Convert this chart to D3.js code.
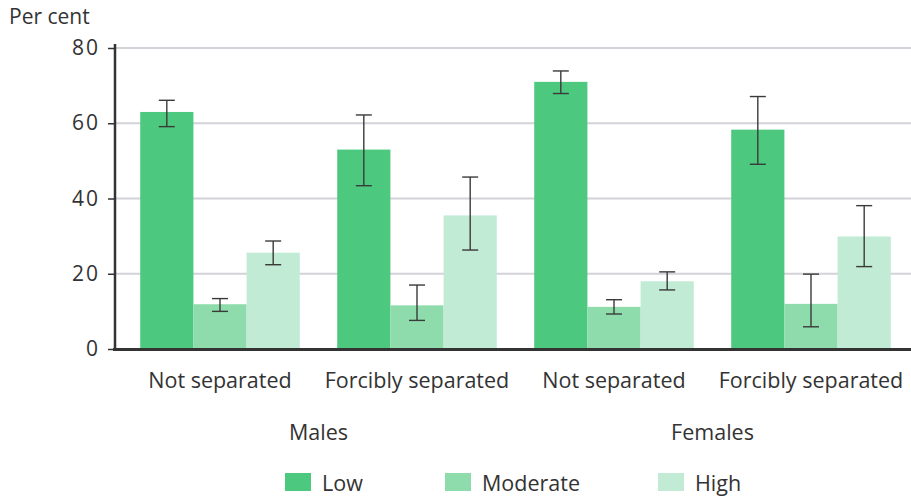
<!DOCTYPE html>
<html>
<head>
<meta charset="utf-8">
<script src="https://cdn.jsdelivr.net/npm/d3@7"></script>
<style>
  html, body { margin: 0; padding: 0; background: #fff; }
  svg { display: block; font-family: "Open Sans", "Noto Sans", sans-serif; }
</style>
</head>
<body>
<svg id="chart" width="911" height="497"></svg>
<script>
// Groups along the x axis (sex + separation status)
const groups = ["Males|Not separated", "Males|Forcibly separated", "Females|Not separated", "Females|Forcibly separated"];
const groupLabels = ["Not separated", "Forcibly separated", "Not separated", "Forcibly separated"];
const sexLabels = ["Males", "Females"];
const levels = ["Low", "Moderate", "High"];
const levelColors = ["#4dc97f", "#8edcab", "#c1ebd4"];

// Per cent by level, one value per group
const lowValues      = [63.0, 53.0, 71.0, 58.3];
const moderateValues = [11.9, 11.6, 11.2, 12.0];
const highValues     = [25.6, 35.5, 18.0, 29.9];

// 95% confidence interval bounds
const lowCI      = [[59.1, 66.1], [43.4, 62.2], [67.9, 73.9], [49.1, 67.1]];
const moderateCI = [[10.0, 13.4], [7.6, 17.0],  [9.3, 13.1],  [5.9, 19.9]];
const highCI     = [[22.4, 28.7], [26.3, 45.7], [15.7, 20.5], [21.9, 38.1]];

const yTicks = [0, 20, 40, 60, 80];

const seriesValues = [lowValues, moderateValues, highValues];
const seriesCI = [lowCI, moderateCI, highCI];

const svg = d3.select("#chart");
const W = 911;
const y0 = 349;
const textColor = "#333";

const x = d3.scaleBand().domain(groups).range([121.5, 909.5]).paddingInner(0.19).paddingOuter(0.095);
const xs = d3.scaleBand().domain(levels).range([0, x.bandwidth()]).padding(0);
const y = d3.scaleLinear().domain([0, 80]).range([y0, 48]);

// Gridlines
svg.append("g")
  .selectAll("line")
  .data(yTicks.filter(t => t > 0))
  .join("line")
  .attr("x1", 115).attr("x2", W)
  .attr("y1", d => y(d)).attr("y2", d => y(d))
  .attr("stroke", "#d2d2d9").attr("stroke-width", 2);

// Bars
const barData = [];
groups.forEach((g, gi) => {
  levels.forEach((lv, li) => {
    barData.push({ g, lv, li, v: seriesValues[li][gi], ci: seriesCI[li][gi] });
  });
});

svg.append("g")
  .selectAll("rect")
  .data(barData)
  .join("rect")
  .attr("x", d => x(d.g) + xs(d.lv))
  .attr("width", xs.bandwidth())
  .attr("y", d => y(d.v))
  .attr("height", d => y(0) - y(d.v))
  .attr("fill", d => levelColors[d.li]);

// Error bars
const eb = svg.append("g").attr("stroke", "#3a3a3a").attr("stroke-width", 1.4);
barData.forEach(d => {
  const cx = x(d.g) + xs(d.lv) + xs.bandwidth() / 2;
  eb.append("line").attr("x1", cx).attr("x2", cx).attr("y1", y(d.ci[0])).attr("y2", y(d.ci[1]));
  [d.ci[0], d.ci[1]].forEach(v => {
    eb.append("line").attr("x1", cx - 8).attr("x2", cx + 8).attr("y1", y(v)).attr("y2", y(v));
  });
});

// Y axis
const yAxis = d3.axisLeft(y).tickValues(yTicks).tickSize(7).tickPadding(8);
const ya = svg.append("g").attr("transform", "translate(115,0)").call(yAxis);
ya.select(".domain").remove();
ya.selectAll(".tick line").attr("stroke", textColor).attr("stroke-width", 1.5);
ya.selectAll(".tick text")
  .attr("font-size", 21).attr("fill", textColor)
  .attr("letter-spacing", "2px")
  .attr("font-family", "'Open Sans', sans-serif");
svg.append("line").attr("x1", 115).attr("x2", 115).attr("y1", 44).attr("y2", y0 + 1.5)
  .attr("stroke", textColor).attr("stroke-width", 2.5);

// Baseline
svg.append("line").attr("x1", 113).attr("x2", W).attr("y1", y0 + 0.5).attr("y2", y0 + 0.5)
  .attr("stroke", textColor).attr("stroke-width", 3);

// Axis title
svg.append("text").attr("x", 9).attr("y", 24).text("Per cent")
  .attr("font-size", 21).attr("fill", textColor);

// Category labels
svg.append("g").selectAll("text")
  .data(groups)
  .join("text")
  .attr("x", d => x(d) + x.bandwidth() / 2)
  .attr("y", 388)
  .attr("text-anchor", "middle")
  .attr("font-size", 21.5).attr("fill", textColor)
  .text((d, i) => groupLabels[i]);

svg.append("g").selectAll("text")
  .data(sexLabels)
  .join("text")
  .attr("x", (d, i) => (x(groups[2 * i]) + x(groups[2 * i + 1]) + x.bandwidth()) / 2)
  .attr("y", 440)
  .attr("text-anchor", "middle")
  .attr("font-size", 21.5).attr("fill", textColor)
  .text(d => d);

// Legend
const legendX = [285, 445, 658];
const lg = svg.append("g").selectAll("g")
  .data(levels)
  .join("g")
  .attr("transform", (d, i) => `translate(${legendX[i]},473)`);
lg.append("rect").attr("width", 26).attr("height", 18).attr("fill", (d, i) => levelColors[i]);
lg.append("text").attr("x", 37).attr("y", 18).attr("font-size", 21.5).attr("fill", textColor).text(d => d);
</script>
</body>
</html>
